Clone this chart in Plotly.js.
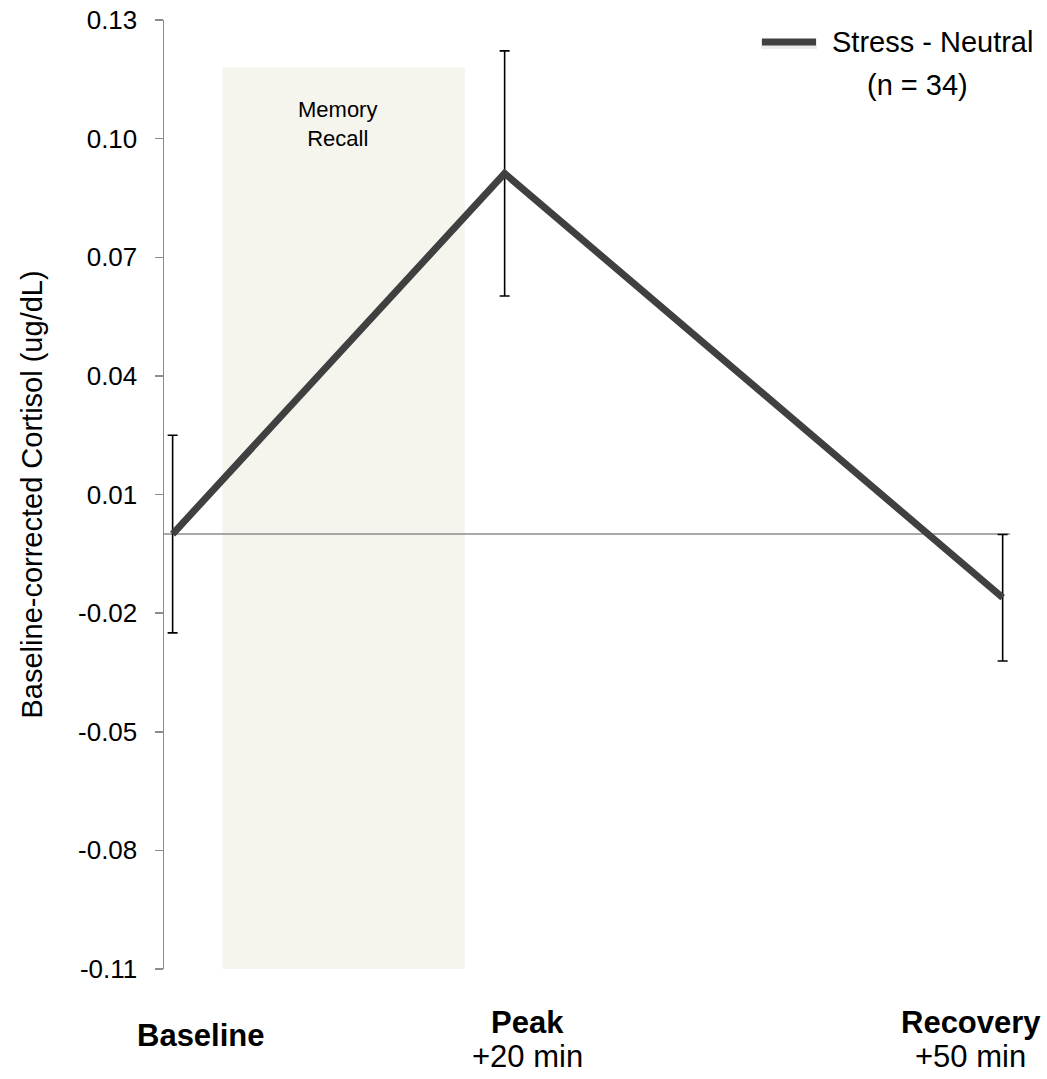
<!DOCTYPE html>
<html>
<head>
<meta charset="utf-8">
<script src="https://cdn.plot.ly/plotly-3.0.1.min.js"></script>
<style>
  html, body { margin: 0; padding: 0; background: #ffffff; }
  #chart { width: 1047px; height: 1079px; }
</style>
</head>
<body>
<div id="chart"></div>
<script>
// ---- data ----
const timeMin = [0, 20, 50];
const categories = ['Baseline', 'Peak', 'Recovery'];
const subLabels = ['', '+20 min', '+50 min'];
const cortisol = [0.0, 0.0912, -0.0161];
const errorSE = [0.025, 0.031, 0.016];
const yTickVals = [-0.11, -0.08, -0.05, -0.02, 0.01, 0.04, 0.07, 0.10, 0.13];
const yTickText = ['-0.11', '-0.08', '-0.05', '-0.02', '0.01', '0.04', '0.07', '0.10', '0.13'];
const seriesName = 'Stress - Neutral';
const sampleLabel = '(n = 34)';
const recallWindow = [3, 17.6];
const recallTop = 0.118;
const recallLabel = 'Memory<br>Recall';
const yTitle = 'Baseline-corrected Cortisol (ug/dL)';

// ---- style ----
const FONT = '"Liberation Sans", Arial, Helvetica, sans-serif';
const lineColor = '#404040';
const xRange = [-0.52, 52.25];
const yRange = [-0.11, 0.13];

const trace = {
  x: timeMin,
  y: cortisol,
  name: seriesName,
  type: 'scatter',
  mode: 'lines',
  line: { color: lineColor, width: 7 },
  error_y: { type: 'data', array: errorSE, visible: true, color: '#000000', thickness: 1.6, width: 5 },
  showlegend: false,
  hoverinfo: 'x+y'
};

const shapes = [
  { type: 'rect', xref: 'x', yref: 'y', x0: recallWindow[0], x1: recallWindow[1], y0: yRange[0], y1: recallTop,
    fillcolor: '#f5f4ed', line: { width: 0 }, layer: 'below' },
  { type: 'line', xref: 'x', yref: 'y', x0: xRange[0], x1: 50.45, y0: 0, y1: 0,
    line: { color: '#8c8c8c', width: 1.5 }, layer: 'below' },
  // legend swatch (soft shadow + line)
  { type: 'line', xref: 'paper', yref: 'paper', x0: 0.6815, x1: 0.7455, y0: 0.9748, y1: 0.9748,
    line: { color: 'rgba(0,0,0,0.08)', width: 10 } },
  { type: 'line', xref: 'paper', yref: 'paper', x0: 0.6826, x1: 0.7443, y0: 0.9768, y1: 0.9768,
    line: { color: lineColor, width: 7 } }
];

const annotations = [
  { text: yTitle, xref: 'paper', yref: 'paper', x: -0.1507, y: 0.5, textangle: -90,
    showarrow: false, xanchor: 'center', yanchor: 'middle', font: { family: FONT, size: 29, color: '#000' } },
  { text: recallLabel, xref: 'x', yref: 'y', x: (recallWindow[0] + recallWindow[1]) / 2, y: 0.1036,
    xshift: -6, showarrow: false, xanchor: 'center', yanchor: 'middle', align: 'center',
    font: { family: FONT, size: 22, color: '#000' } },
  { text: seriesName, xref: 'paper', yref: 'paper', x: 0.7603, y: 0.9768, showarrow: false,
    xanchor: 'left', yanchor: 'middle', font: { family: FONT, size: 29, color: '#000' } },
  { text: sampleLabel, xref: 'paper', yref: 'paper', x: 0.8596, y: 0.9315, showarrow: false,
    xanchor: 'center', yanchor: 'middle', font: { family: FONT, size: 29, color: '#000' } }
];

const labelShift = [28, 23, -32];
categories.forEach((c, i) => {
  if (subLabels[i]) {
    annotations.push({ text: '<b>' + c + '</b>', xref: 'x', yref: 'paper', x: timeMin[i], y: -0.0569,
      xshift: labelShift[i], showarrow: false, xanchor: 'center', yanchor: 'middle',
      font: { family: FONT, size: 31, color: '#000' } });
    annotations.push({ text: subLabels[i], xref: 'x', yref: 'paper', x: timeMin[i], y: -0.0927,
      xshift: labelShift[i], showarrow: false, xanchor: 'center', yanchor: 'middle',
      font: { family: FONT, size: 31, color: '#000' } });
  } else {
    annotations.push({ text: '<b>' + c + '</b>', xref: 'x', yref: 'paper', x: timeMin[i], y: -0.0706,
      xshift: labelShift[i], showarrow: false, xanchor: 'center', yanchor: 'middle',
      font: { family: FONT, size: 31, color: '#000' } });
  }
});

const layout = {
  width: 1047, height: 1079,
  margin: { l: 164, r: 7, t: 20, b: 110, pad: 0 },
  paper_bgcolor: '#ffffff', plot_bgcolor: '#ffffff',
  font: { family: FONT, color: '#000' },
  showlegend: false,
  xaxis: { range: xRange, visible: false, showgrid: false, zeroline: false, fixedrange: true },
  yaxis: {
    range: yRange, tickvals: yTickVals, ticktext: yTickText,
    showgrid: false, zeroline: false, showline: true, linecolor: '#8c8c8c', linewidth: 1.5,
    ticks: 'outside', ticklen: 8, tickwidth: 1.5, tickcolor: '#8c8c8c',
    ticklabelstandoff: 12,
    tickfont: { family: FONT, size: 26, color: '#000' }, fixedrange: true
  },
  shapes: shapes,
  annotations: annotations
};

Plotly.newPlot('chart', [trace], layout, { displayModeBar: false, staticPlot: true });
</script>
</body>
</html>
